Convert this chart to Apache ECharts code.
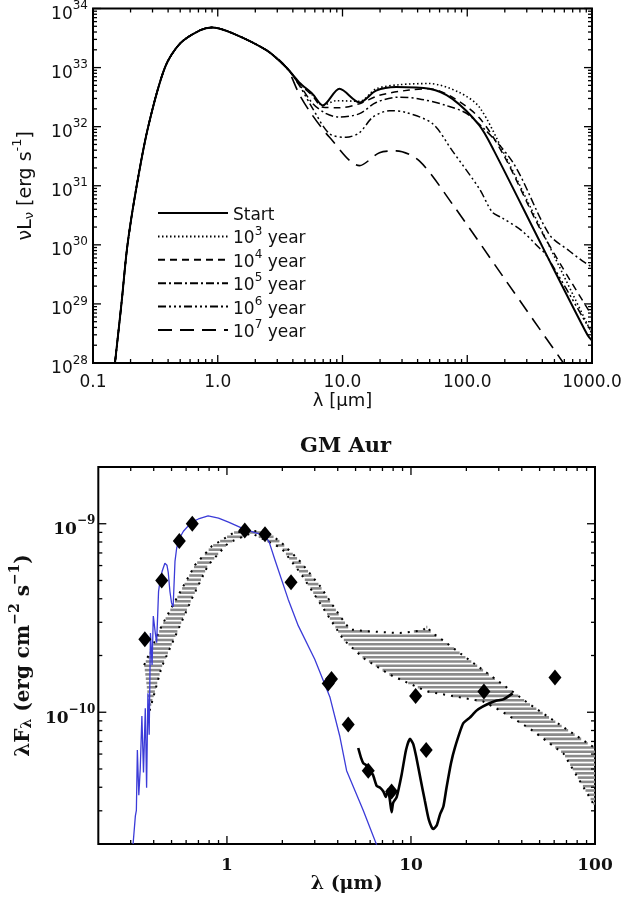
<!DOCTYPE html>
<html><head><meta charset="utf-8">
<script src="https://cdn.jsdelivr.net/npm/echarts/dist/echarts.min.js"></script>
<style>html,body{margin:0;padding:0;background:#fff}#c{width:625px;height:904px}</style>
</head><body><div id="c"></div><script>
// ---------- Top panel: SED evolution (lambda [um], nu L_nu [erg/s]) ----------
const riseLam = [0.15,0.169,0.189,0.224,0.277,0.377,0.5,0.72,0.9,1.32,2.47,3.55];
const riseL   = [1.0e28,1.0e29,1.0e30,1.0e31,1.0e32,1.0e33,2.57e33,4.27e33,4.79e33,3.80e33,1.95e33,1.0e33];

const startLam = [4.5,5.77,6.96,9.46,13.7,18.6,26.9,49.7,76,125,164,400,918,1000];
const startL   = [5.62e32,3.55e32,2.29e32,4.37e32,2.57e32,4.07e32,4.68e32,4.37e32,2.95e32,1.05e32,3.89e31,9.33e29,3.0e28,2.4e28];

const yr3Lam = [4.5,5.77,6.96,8.9,13.7,18.6,28.6,49.7,86.3,125,198,400,917,1000];
const yr3L   = [5.5e32,3.4e32,2.29e32,2.75e32,2.69e32,4.37e32,5.13e32,5.37e32,3.8e32,2.14e32,3.47e31,1.66e30,4.57e28,3.2e28];

const yr4Lam = [4.5,5.77,6.96,9.46,13.7,19.8,34.3,49.7,76,125,198,400,1000];
const yr4L   = [5.4e32,3.3e32,2.14e32,2.09e32,2.45e32,3.39e32,4.17e32,4.37e32,3.16e32,1.41e32,3.16e31,1.58e30,6.3e28];

const yr5Lam = [4.5,5.79,7.41,9.46,13.7,18.6,28.6,41.3,67.5,104,228,453,655,836,1000];
const yr5L   = [5.2e32,2.45e32,1.66e32,1.45e32,1.66e32,2.57e32,3.16e32,2.95e32,2.29e32,1.55e32,2.63e31,1.51e30,7.94e29,5.37e29,4.2e29];

const yr6Lam = [4.5,5.79,7.87,10.7,13.7,17.5,23.8,32.3,52.8,76,125,159,189,273,377,426,1000];
const yr6L   = [5.0e32,2.0e32,7.59e31,6.61e31,7.94e31,1.45e32,1.86e32,1.74e32,1.12e32,3.89e31,8.9e30,3.55e30,2.88e30,1.74e30,8.91e29,6.92e29,3.16e28];

const yr7Lam = [4.5,5.62,7.87,13.7,19.8,26.9,41.3,76,200,577,1000];
const yr7L   = [3.55e32,1.66e32,6.61e31,2.19e31,3.63e31,3.89e31,2.63e31,4.9e30,2.63e29,1.07e28,2.0e27];

const topNames = ['Start','10^3 year','10^4 year','10^5 year','10^6 year','10^7 year'];
const topXTickLabels = ['0.1','1.0','10.0','100.0','1000.0'];

// ---------- Bottom panel: GM Aur ----------
const blueLam = [0.309,0.318,0.322,0.326,0.332,0.338,0.345,0.352,0.36,0.366,0.372,0.378,0.384,0.392,0.398,0.408,0.415,0.425,0.432,0.445,0.46,0.472,0.48,0.49,0.5,0.51,0.522,0.533,0.55,0.58,0.643,0.7,0.79,0.9,1.02,1.25,1.45,1.61,1.7,1.82,2.15,2.44,3.0,3.63,4.11,4.47,5.5,6.6];
const blueF   = [2.0e-11,2.82e-11,3.02e-11,6.31e-11,3.63e-11,5.01e-11,9.55e-11,4.79e-11,1.05e-10,3.98e-11,1.26e-10,7.59e-11,2.63e-10,1.78e-10,3.24e-10,2.63e-10,2.34e-10,4.37e-10,4.9e-10,5.62e-10,6.17e-10,6.03e-10,5.5e-10,4.37e-10,3.8e-10,3.63e-10,6.31e-10,7.41e-10,8.32e-10,9.12e-10,1.02e-9,1.06e-9,1.10e-9,1.07e-9,1.02e-9,9.33e-10,8.91e-10,8.71e-10,7.94e-10,6.46e-10,3.98e-10,2.88e-10,1.91e-10,1.20e-10,7.41e-11,4.9e-11,3.02e-11,1.91e-11];

const irsLam = [5.17,5.35,5.51,5.7,5.98,6.2,6.51,6.8,7.08,7.3,7.5,7.69,7.85,8.0,8.36,8.9,9.4,9.88,10.3,10.7,11.3,11.9,12.5,13.2,13.8,14.4,15.0,15.6,16.5,17.3,19.2,20.8,22.7,24.5,26.9,29,31.7,35.7];
const irsF   = [6.46e-11,5.75e-11,5.37e-11,5.25e-11,4.79e-11,4.68e-11,4.07e-11,3.98e-11,3.8e-11,3.55e-11,3.89e-11,3.39e-11,2.95e-11,3.31e-11,3.55e-11,4.68e-11,6.31e-11,7.24e-11,6.76e-11,5.75e-11,4.37e-11,3.39e-11,2.69e-11,2.4e-11,2.51e-11,2.88e-11,3.16e-11,3.98e-11,5.37e-11,6.46e-11,8.71e-11,9.33e-11,1.02e-10,1.07e-10,1.12e-10,1.15e-10,1.17e-10,1.26e-10];

const photLam = [0.358,0.442,0.551,0.648,1.25,1.61,2.23,3.55,3.7,4.56,5.86,7.85,10.6,12.1,24.9,60.6];
const photF   = [2.44e-10,5.0e-10,8.1e-10,1.0e-9,9.2e-10,8.8e-10,4.9e-10,1.42e-10,1.5e-10,8.6e-11,4.9e-11,3.8e-11,1.22e-10,6.3e-11,1.29e-10,1.53e-10];

const bandUpLam = [0.355,0.442,0.544,0.67,0.826,1.1,1.61,1.98,2.5,3.2,4.11,4.66,5.74,8.7,11.6,12.2,12.9,15,19.2,25.8,34.4,44.3,67.5,100];
const bandUpF   = [1.78e-10,2.88e-10,4.17e-10,6.03e-10,7.59e-10,9.02e-10,9.2e-10,7.94e-10,6.31e-10,4.68e-10,3.24e-10,2.75e-10,2.69e-10,2.63e-10,2.72e-10,2.85e-10,2.66e-10,2.4e-10,2.0e-10,1.62e-10,1.32e-10,1.10e-10,8.32e-11,6.46e-11];
const bandLoLam = [0.38,0.442,0.533,0.643,0.79,1.02,1.36,1.98,2.5,3.2,4.29,5.51,7.69,12.2,24.7,31.7,44.3,67.5,100];
const bandLoF   = [1.02e-10,1.74e-10,2.63e-10,3.98e-10,6.03e-10,7.94e-10,8.91e-10,7.41e-10,5.5e-10,3.8e-10,2.43e-10,1.94e-10,1.58e-10,1.29e-10,1.14e-10,1.0e-10,8.18e-11,6.03e-11,3.16e-11];

const botXTickLabels = ['1','10','100'];

// ---------- helpers ----------
function zip(a, b) { return a.map((v, i) => [v, b[i]]); }
function minorList(decadeStarts) {
  const out = [];
  decadeStarts.forEach(d => { for (let k = 2; k <= 9; k++) out.push(+(k * d).toPrecision(3)); });
  return out;
}
const topXMajor = [0.1,1,10,100,1000], topXMinor = minorList([0.1,1,10,100]);
const topYMajor = [1e28,1e29,1e30,1e31,1e32,1e33,1e34], topYMinor = minorList([1e28,1e29,1e30,1e31,1e32,1e33]);
const botXMajor = [1,10,100], botXMinor = minorList([0.1,1,10]).filter(v => v > 0.2 && v < 100);
const botYMajor = [1e-10,1e-9], botYMinor = minorList([1e-11,1e-10,1e-9]).filter(v => v > 2e-11 && v < 2e-9);

const MAJ = 8, MIN = 4;
function tickSeries(gi, xRef, yRef, xMaj, xMin, yMaj, yMin) {
  return { type: 'custom', xAxisIndex: gi, yAxisIndex: gi, silent: true, z: 10, clip: false,
    data: [[xRef, yRef]],
    renderItem: (params, api) => {
      const cs = params.coordSys;
      const l = cs.x, r = cs.x + cs.width, t = cs.y, b = cs.y + cs.height;
      const st = { stroke: '#000', lineWidth: 1.3 };
      const kids = [];
      const addX = (v, len) => {
        const px = api.coord([v, yRef])[0];
        kids.push({ type: 'line', shape: { x1: px, y1: b, x2: px, y2: b - len }, style: st });
        kids.push({ type: 'line', shape: { x1: px, y1: t, x2: px, y2: t + len }, style: st });
      };
      const addY = (v, len) => {
        const py = api.coord([xRef, v])[1];
        kids.push({ type: 'line', shape: { x1: l, y1: py, x2: l + len, y2: py }, style: st });
        kids.push({ type: 'line', shape: { x1: r, y1: py, x2: r - len, y2: py }, style: st });
      };
      xMaj.forEach(v => addX(v, MAJ)); xMin.forEach(v => addX(v, MIN));
      yMaj.forEach(v => addY(v, MAJ)); yMin.forEach(v => addY(v, MIN));
      return { type: 'group', children: kids };
    } };
}

const SANS = 'DejaVu Sans', SERIF = 'DejaVu Serif';
function richSet(fam, base, small, weight) {
  return {
    b: { fontFamily: fam, fontSize: base, fontWeight: weight, lineHeight: base + 6, verticalAlign: 'bottom', color: '#111' },
    s: { fontFamily: fam, fontSize: small, fontWeight: weight, lineHeight: small, verticalAlign: 'top', color: '#111' },
    u: { fontFamily: fam, fontSize: small, fontWeight: weight, lineHeight: small, verticalAlign: 'bottom', color: '#111' }
  };
}
const topLabelRich = richSet(SANS, 17, 12, 'normal');
const topNameRich = richSet(SANS, 19, 13, 'normal');
const botLabelRich = richSet(SERIF, 17, 12, 'bold');
const botNameRich = richSet(SERIF, 20, 14, 'bold');
function isPow10(v) { const l = Math.log10(v); return Math.abs(l - Math.round(l)) < 1e-6; }

// ---------- series ----------
const styles = [
  { width: 2.0, type: 'solid' },
  { width: 1.6, type: [1.5, 2.5] },
  { width: 1.5, type: [7, 5] },
  { width: 1.5, type: [8, 3, 2, 3] },
  { width: 1.5, type: [8, 3, 2, 3, 2, 3, 2, 3] },
  { width: 1.6, type: [14, 8] }
];
const topLams = [startLam, yr3Lam, yr4Lam, yr5Lam, yr6Lam, yr7Lam];
const topVals = [startL, yr3L, yr4L, yr5L, yr6L, yr7L];
const topSeries = topNames.map((n, i) => ({
  name: n, type: 'line', xAxisIndex: 0, yAxisIndex: 0, symbol: 'none', smooth: 0.3,
  data: zip(riseLam, riseL).concat(zip(topLams[i], topVals[i])),
  lineStyle: { color: '#000', width: styles[i].width, type: styles[i].type },
  itemStyle: { color: '#000' }, z: 3
}));

const bandSeries = {
  type: 'custom', xAxisIndex: 1, yAxisIndex: 1, silent: true, z: 1, clip: true,
  data: [[1, 1e-10]],
  renderItem: (params, api) => {
    const cs = params.coordSys;
    const up = bandUpLam.map((l, i) => api.coord([l, bandUpF[i]]));
    const lo = bandLoLam.map((l, i) => api.coord([l, bandLoF[i]]));
    const poly = up.concat(lo.slice().reverse());
    const kids = [];
    const ys = poly.map(p => p[1]);
    const y0 = Math.min(...ys), y1 = Math.max(...ys);
    for (let y = cs.y + 1; y < cs.y + cs.height; y += 4.3) {
      if (y < y0 || y > y1) continue;
      const xs = [];
      for (let i = 0; i < poly.length; i++) {
        const a = poly[i], b = poly[(i + 1) % poly.length];
        if ((a[1] <= y && b[1] > y) || (b[1] <= y && a[1] > y)) {
          xs.push(a[0] + (y - a[1]) / (b[1] - a[1]) * (b[0] - a[0]));
        }
      }
      xs.sort((p, q) => p - q);
      for (let k = 0; k + 1 < xs.length; k += 2) {
        const xa = Math.max(xs[k], cs.x), xb = Math.min(xs[k + 1], cs.x + cs.width);
        if (xb > xa) kids.push({ type: 'line', shape: { x1: xa, y1: y, x2: xb, y2: y }, style: { stroke: '#8a8a8a', lineWidth: 2.6 } });
      }
    }
    const dot = { stroke: '#000', lineWidth: 2, lineDash: [2, 6], fill: null };
    kids.push({ type: 'polyline', shape: { points: up }, style: dot });
    kids.push({ type: 'polyline', shape: { points: lo }, style: dot });
    return { type: 'group', children: kids };
  }
};

const option = {
  animation: false,
  backgroundColor: '#fff',
  title: { text: 'GM Aur', left: 300, top: 436, padding: 0,
    textStyle: { fontFamily: SERIF, fontWeight: 'bold', fontSize: 21, color: '#111' } },
  legend: {
    orient: 'vertical', left: 152, top: 202, itemWidth: 70, itemHeight: 14, itemGap: 1.4,
    selectedMode: false, data: topNames,
    itemStyle: { color: 'rgba(0,0,0,0)', borderColor: 'rgba(0,0,0,0)', borderWidth: 0, opacity: 0 },
    formatter: n => {
      if (n === 'Start') return '{b|Start}';
      const e = n.split('^')[1].split(' ')[0];
      return '{b|10}{s|' + e + '}{b| year}';
    },
    textStyle: { padding: 0, rich: { b: { fontFamily: SANS, fontSize: 17, lineHeight: 22, verticalAlign: 'bottom', color: '#111' },
                         s: { fontFamily: SANS, fontSize: 12, lineHeight: 12, verticalAlign: 'top', color: '#111' } } }
  },
  grid: [
    { left: 93, top: 8, width: 499, height: 355, show: true, borderColor: '#000', borderWidth: 2, backgroundColor: 'transparent' },
    { left: 98, top: 467, width: 497, height: 377, show: true, borderColor: '#000', borderWidth: 2, backgroundColor: 'transparent' }
  ],
  xAxis: [
    { type: 'log', logBase: 10, gridIndex: 0, min: 0.1, max: 1000,
      axisLine: { show: false }, axisTick: { show: false }, splitLine: { show: false },
      axisLabel: { margin: 11, fontFamily: SANS, fontSize: 17, color: '#111',
        formatter: v => { const i = topXMajor.findIndex(m => Math.abs(m - v) / m < 1e-6); return i >= 0 ? topXTickLabels[i] : ''; } },
      name: 'λ [μm]', nameLocation: 'middle', nameGap: 29,
      nameTextStyle: { fontFamily: SANS, fontSize: 18, color: '#111' } },
    { type: 'log', logBase: 10, gridIndex: 1, min: 0.2, max: 100,
      axisLine: { show: false }, axisTick: { show: false }, splitLine: { show: false },
      axisLabel: { margin: 13, fontFamily: SERIF, fontSize: 17, fontWeight: 'bold', color: '#111',
        formatter: v => { const i = botXMajor.findIndex(m => Math.abs(m - v) / m < 1e-6); return i >= 0 ? botXTickLabels[i] : ''; } },
      name: 'λ (μm)', nameLocation: 'middle', nameGap: 28,
      nameTextStyle: { fontFamily: SERIF, fontSize: 19, fontWeight: 'bold', color: '#111' } }
  ],
  yAxis: [
    { type: 'log', logBase: 10, gridIndex: 0, min: 1e28, max: 1e34,
      axisLine: { show: false }, axisTick: { show: false }, splitLine: { show: false },
      axisLabel: { margin: 5, padding: [6, 0, 0, 0], rich: topLabelRich,
        formatter: v => '{b|10}{s|' + Math.round(Math.log10(v)) + '}' },
      name: '{b|νL}{u|ν}{b| [erg s}{s|-1}{b|]}', nameLocation: 'middle', nameGap: 57,
      nameTextStyle: { rich: topNameRich } },
    { type: 'log', logBase: 10, gridIndex: 1, min: 2e-11, max: 2e-9,
      axisLine: { show: false }, axisTick: { show: false }, splitLine: { show: false },
      axisLabel: { margin: 3, padding: [6, 0, 0, 0], rich: botLabelRich,
        formatter: v => isPow10(v) ? '{b|10}{s|−' + (-Math.round(Math.log10(v))) + '}' : '' },
      name: '{b|λF}{u|λ}{b| (erg cm}{s|−2}{b| s}{s|−1}{b|)}', nameLocation: 'middle', nameGap: 58,
      nameTextStyle: { rich: botNameRich } }
  ],
  series: topSeries.concat([
    bandSeries,
    { name: 'photosphere', type: 'line', xAxisIndex: 1, yAxisIndex: 1, symbol: 'none', data: zip(blueLam, blueF),
      lineStyle: { color: '#3b3bd8', width: 1.3 }, z: 2 },
    { name: 'IRS', type: 'line', xAxisIndex: 1, yAxisIndex: 1, symbol: 'none', smooth: 0.2, data: zip(irsLam, irsF),
      lineStyle: { color: '#000', width: 2.6 }, z: 3 },
    { name: 'photometry', type: 'scatter', xAxisIndex: 1, yAxisIndex: 1, symbol: 'diamond', symbolSize: [13, 16],
      data: zip(photLam, photF), itemStyle: { color: '#000', opacity: 1 }, z: 4 },
    tickSeries(0, 1, 1e30, topXMajor, topXMinor, topYMajor, topYMinor),
    tickSeries(1, 1, 1e-10, botXMajor, botXMinor, botYMajor, botYMinor)
  ])
};
const chart = echarts.init(document.getElementById('c'), null, { renderer: 'canvas' });
chart.setOption(option);
</script></body></html>
